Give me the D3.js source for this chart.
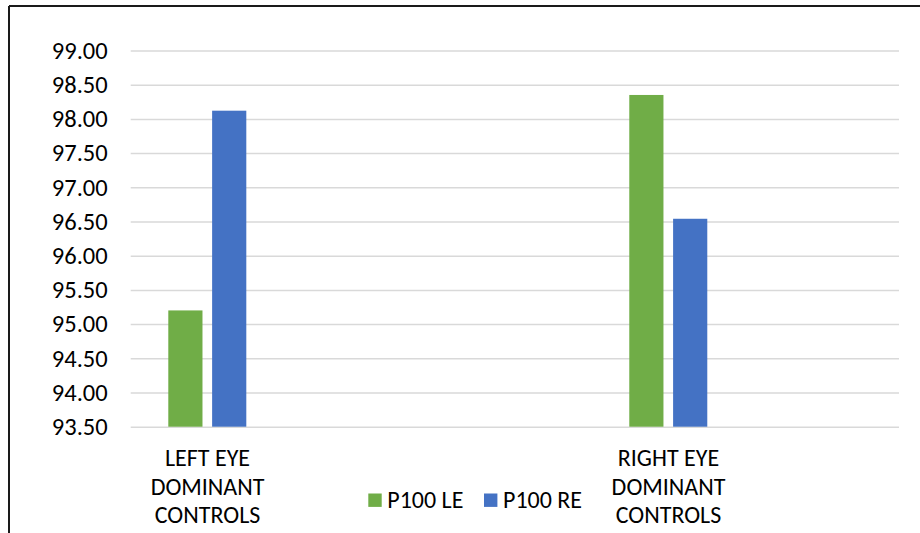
<!DOCTYPE html>
<html>
<head>
<meta charset="utf-8">
<script src="https://cdn.jsdelivr.net/npm/d3@7"></script>
<style>
  html, body { margin: 0; padding: 0; background: #fff; }
  svg { display: block; }
  text { font-family: Carlito, Calibri, Lato, sans-serif; fill: #000; }
</style>
</head>
<body>
<div id="chart"></div>
<script>
// Category slots along the x axis (some slots are empty spacers)
const categories = [
  ["LEFT EYE", "DOMINANT", "CONTROLS"],
  [],
  [],
  ["RIGHT EYE", "DOMINANT", "CONTROLS"],
  []
];
const seriesNames = ["P100 LE", "P100 RE"];
const seriesColors = ["#70AD47", "#4472C4"];
const p100LE = [95.20, null, null, 98.35, null];
const p100RE = [98.12, null, null, 96.54, null];
const yTicks = [93.5, 94, 94.5, 95, 95.5, 96, 96.5, 97, 97.5, 98, 98.5, 99];

const W = 920, H = 533;
const plot = { left: 130.7, right: 899, top: 50.5, bottom: 426.7 };
const FS = 24;

const svg = d3.select("#chart").append("svg")
  .attr("width", W).attr("height", H);

// Chart frame (top and left edges)
svg.append("line").attr("x1", 9).attr("x2", W).attr("y1", 6).attr("y2", 6)
  .attr("stroke", "#1a1a1a").attr("stroke-width", 2);
svg.append("line").attr("x1", 9).attr("x2", 9).attr("y1", 6).attr("y2", H)
  .attr("stroke", "#1a1a1a").attr("stroke-width", 2);

const y = d3.scaleLinear().domain([93.5, 99]).range([plot.bottom, plot.top]);
const x = d3.scaleBand().domain(d3.range(categories.length))
  .range([plot.left, plot.right]).paddingInner(0).paddingOuter(0);
const inner = d3.scaleBand().domain(seriesNames)
  .range([37.6, 115.6]).paddingInner(0.22);

// Gridlines and tick labels
const yAxis = d3.axisLeft(y).tickValues(yTicks)
  .tickSize(-(plot.right - plot.left)).tickPadding(23)
  .tickFormat(d3.format(".2f"));
const gy = svg.append("g").attr("transform", `translate(${plot.left},0)`).call(yAxis);
gy.select(".domain").remove();
gy.selectAll(".tick line").attr("stroke", "#D9D9D9").attr("stroke-width", 1.5);
gy.selectAll(".tick text").attr("font-size", FS + 0.5).attr("fill", "#000")
  .attr("font-family", "Carlito, Calibri, Lato, sans-serif");

// Bars
const series = [p100LE, p100RE];
series.forEach((vals, si) => {
  svg.append("g").selectAll("rect")
    .data(vals.map((v, i) => ({ v, i })).filter(d => d.v != null))
    .join("rect")
    .attr("x", d => x(d.i) + inner(seriesNames[si]))
    .attr("width", inner.bandwidth())
    .attr("y", d => y(d.v))
    .attr("height", d => y(93.5) - y(d.v))
    .attr("fill", seriesColors[si]);
});

// Category labels
categories.forEach((lines, i) => {
  const cx = x(i) + x.bandwidth() / 2;
  const t = svg.append("text").attr("text-anchor", "middle").attr("font-size", FS);
  lines.forEach((ln, k) => {
    t.append("tspan").attr("x", cx).attr("y", 466 + k * 28.7).text(ln);
  });
});

// Legend
const legendX = [368.3, 484];
seriesNames.forEach((name, i) => {
  svg.append("rect").attr("x", legendX[i]).attr("y", 493.5)
    .attr("width", 13.4).attr("height", 13.4).attr("fill", seriesColors[i]);
  svg.append("text").attr("x", legendX[i] + 19).attr("y", 508)
    .attr("font-size", FS).text(name);
});
</script>
</body>
</html>
